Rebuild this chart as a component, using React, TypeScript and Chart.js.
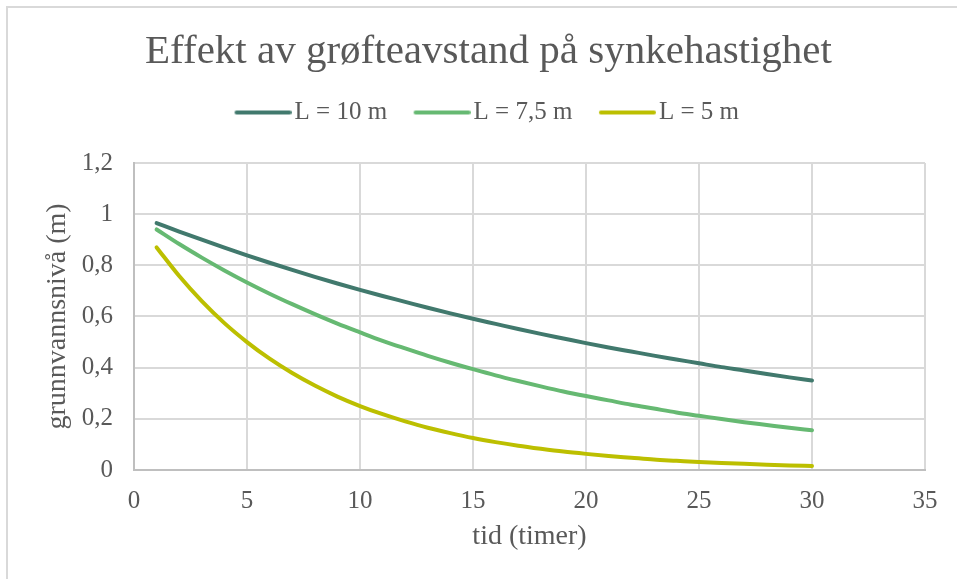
import React, { useEffect, useRef } from "react";
import { Chart, registerables } from "chart.js";

Chart.register(...registerables);

const chartTitle = "Effekt av grøfteavstand på synkehastighet";
const xAxisTitle = "tid (timer)";
const yAxisTitle = "grunnvannsnivå (m)";
const seriesNames = ["L = 10 m", "L = 7,5 m", "L = 5 m"];
const seriesColors = ["#41796d", "#66b972", "#bcbf00"];

const hours = [1, 2, 3, 4, 5, 6, 7, 8, 9, 10, 11, 12, 13, 14, 15, 16, 17, 18, 19, 20, 21, 22, 23, 24, 25, 26, 27, 28, 29, 30];

const levelL10 = [0.965, 0.932, 0.9, 0.869, 0.839, 0.81, 0.782, 0.755, 0.729, 0.704, 0.68, 0.657, 0.634, 0.612, 0.591, 0.571, 0.551, 0.532, 0.514, 0.496, 0.479, 0.463, 0.447, 0.432, 0.417, 0.402, 0.389, 0.375, 0.362, 0.35];
const levelL75 = [0.94, 0.883, 0.83, 0.78, 0.733, 0.689, 0.648, 0.609, 0.572, 0.538, 0.505, 0.475, 0.446, 0.419, 0.394, 0.37, 0.348, 0.327, 0.307, 0.289, 0.272, 0.255, 0.24, 0.225, 0.212, 0.199, 0.187, 0.176, 0.165, 0.155];
const levelL5 = [0.87, 0.758, 0.66, 0.574, 0.5, 0.435, 0.379, 0.33, 0.287, 0.25, 0.218, 0.19, 0.165, 0.144, 0.125, 0.109, 0.095, 0.083, 0.072, 0.063, 0.055, 0.048, 0.041, 0.036, 0.031, 0.027, 0.024, 0.021, 0.018, 0.016];

const xTickLabels = ["0", "5", "10", "15", "20", "25", "30", "35"];
const yTickLabels = ["0", "0,2", "0,4", "0,6", "0,8", "1", "1,2"];

const FONT = "'Liberation Serif', 'DejaVu Serif', serif";
const TEXT = "#595959";

const framePlugin = {
  id: "frame",
  beforeDraw(chart: any) {
    const ctx = chart.ctx;
    ctx.save();
    ctx.fillStyle = "#ffffff";
    ctx.fillRect(0, 0, chart.width, chart.height);
    ctx.strokeStyle = "#d9d9d9";
    ctx.lineWidth = 2;
    ctx.strokeRect(7, 7, chart.width + 20, chart.height + 20);
    ctx.restore();
  },
};

// legend symbol: a 53px line sitting at the right part of a 63px-wide image
function makeLegendLine(color: string) {
  const c = document.createElement("canvas");
  c.width = 63;
  c.height = 6;
  const g = c.getContext("2d") as CanvasRenderingContext2D;
  g.strokeStyle = color;
  g.lineWidth = 4;
  g.lineCap = "round";
  g.beginPath();
  g.moveTo(8, 3);
  g.lineTo(61, 3);
  g.stroke();
  return c;
}

export default function App() {
  const ref = useRef<HTMLCanvasElement | null>(null);

  useEffect(() => {
    document.body.style.margin = "0";
    const allSeries = [levelL10, levelL75, levelL5];
    const chart = new Chart(ref.current as HTMLCanvasElement, {
      type: "line",
      data: {
        datasets: allSeries.map((vals, i) => ({
          label: seriesNames[i],
          data: hours.map((h, j) => ({ x: h, y: vals[j] })),
          borderColor: seriesColors[i],
          backgroundColor: seriesColors[i],
          borderWidth: 4,
          pointRadius: 0,
          pointHoverRadius: 0,
          pointStyle: makeLegendLine(seriesColors[i]),
          tension: 0.4,
          cubicInterpolationMode: "monotone",
          fill: false,
          borderCapStyle: "round",
        })),
      },
      options: {
        animation: false,
        responsive: false,
        maintainAspectRatio: false,
        layout: { padding: { left: 52, right: 32, top: 0, bottom: 0 } },
        plugins: {
          title: {
            display: true,
            text: chartTitle,
            color: TEXT,
            font: { family: FONT, size: 41, weight: "normal", lineHeight: 0.95 },
            padding: { top: 33, bottom: -2 },
          },
          subtitle: {
            display: true,
            text: "",
            weight: 500,
            font: { size: 10, lineHeight: 1 },
            padding: { top: 0, bottom: 18 },
          } as any,
          legend: {
            display: true,
            position: "top",
            labels: {
              color: TEXT,
              font: { family: FONT, size: 25 },
              usePointStyle: true,
              pointStyleWidth: 44,
              padding: 30,
            },
          },
          tooltip: { enabled: false },
        },
        scales: {
          x: {
            type: "linear",
            min: 0,
            max: 35,
            ticks: {
              stepSize: 5,
              color: TEXT,
              font: { family: FONT, size: 25 },
              padding: 16,
              maxRotation: 0,
              callback: (v: any) => xTickLabels[Math.round(Number(v) / 5)] ?? "",
            },
            grid: { color: "#d9d9d9", lineWidth: 2, drawTicks: false },
            border: { color: "#bfbfbf", width: 2 },
            title: {
              display: true,
              text: xAxisTitle,
              color: TEXT,
              font: { family: FONT, size: 28 },
              padding: { top: 0, bottom: 26 },
            },
            afterFit: (s: any) => {
              s.height = 109;
            },
          },
          y: {
            type: "linear",
            min: 0,
            max: 1.2,
            ticks: {
              stepSize: 0.2,
              color: TEXT,
              font: { family: FONT, size: 25 },
              padding: 21,
              callback: (v: any) => yTickLabels[Math.round(Number(v) / 0.2)] ?? "",
            },
            grid: { color: "#d9d9d9", lineWidth: 2, drawTicks: false },
            border: { color: "#bfbfbf", width: 2 },
            title: {
              display: true,
              text: yAxisTitle,
              color: TEXT,
              font: { family: FONT, size: 28 },
              padding: { top: -11, bottom: 0 },
            },
            afterFit: (s: any) => {
              s.width = 82;
            },
          },
        },
      },
      plugins: [framePlugin],
    });
    return () => chart.destroy();
  }, []);

  return (
    <div style={{ position: "absolute", left: 0, top: 0, width: 957, height: 579 }}>
      <canvas ref={ref} width={957} height={579} style={{ display: "block", width: 957, height: 579 }} />
    </div>
  );
}
